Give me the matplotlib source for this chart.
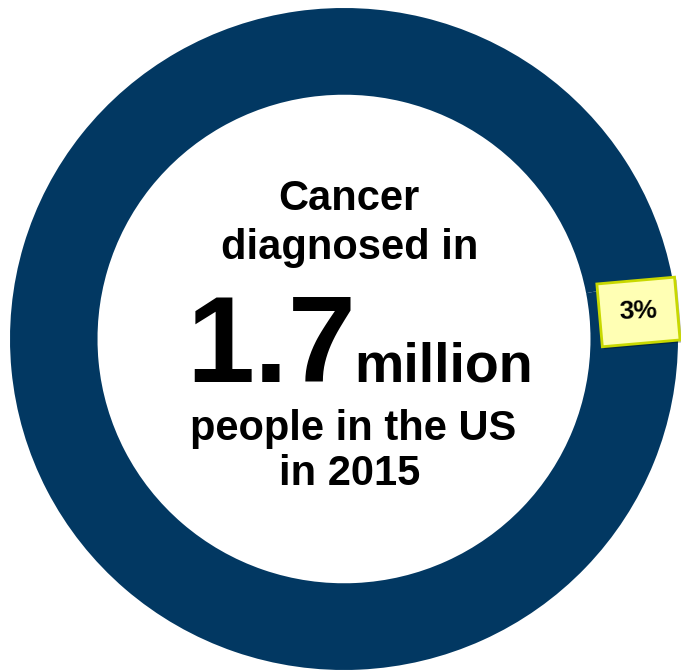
import matplotlib
matplotlib.use('Agg')
import matplotlib.pyplot as plt
from matplotlib.patches import Rectangle
from matplotlib.transforms import ScaledTranslation

# data
shares = [3, 97]
labels = ['3%', '']
headline = ['Cancer', 'diagnosed in']
big_number = '1.7'
big_unit = 'million'
footline = ['people in the US', 'in 2015']

NAVY = '#023862'
plt.rcParams['font.family'] = ['Liberation Sans', 'DejaVu Sans']

W, H = 681, 671
fig = plt.figure(figsize=(W / 100, H / 100), dpi=100)
ax = fig.add_axes([0, 0, 1, 1])

wedges, _, autotexts = ax.pie(
    shares, colors=[NAVY, NAVY], startangle=0, counterclock=True,
    wedgeprops=dict(width=0.262, linewidth=0),
    autopct=lambda p: f'{p:.0f}%' if p < 50 else '', pctdistance=0.884,
    textprops=dict(fontsize=19, fontweight='bold', color='black', zorder=5))

# ring is slightly wider than tall in the original
ax.set_aspect('auto')
ax.set_xlim(-344 / 334, 337 / 334)
ax.set_ylim(-332 / 331, 339 / 331)
ax.axis('off')

# yellow callout box behind the 3% label
lx, ly = autotexts[0].get_position()
trans = fig.dpi_scale_trans + ScaledTranslation(lx, ly, ax.transData)
shadow = Rectangle((-0.365, -0.345), 0.78, 0.63, angle=5, rotation_point='center',
                   transform=trans, facecolor='#000000', alpha=0.3, lw=0, zorder=3)
box = Rectangle((-0.385, -0.32), 0.78, 0.63, angle=5, rotation_point='center',
                transform=trans, facecolor='#FFFFB4', edgecolor='#C8D800',
                lw=2, zorder=4)
ax.add_patch(shadow)
ax.add_patch(box)
autotexts[0].set_rotation(2)


def px(x, y):
    return x / W, 1 - y / H


fig.text(*px(349, 210), headline[0], ha='center', va='baseline',
         fontsize=30, fontweight='bold')
fig.text(*px(350, 259), headline[1], ha='center', va='baseline',
         fontsize=30, fontweight='bold')
fig.text(*px(356, 382), big_number, ha='right', va='baseline',
         fontsize=88, fontweight='bold')
fig.text(*px(354, 382), big_unit, ha='left', va='baseline',
         fontsize=40, fontweight='bold')
fig.text(*px(353, 440), footline[0], ha='center', va='baseline',
         fontsize=30, fontweight='bold')
fig.text(*px(350, 485), footline[1], ha='center', va='baseline',
         fontsize=30, fontweight='bold')

fig.savefig('out.png', dpi=100, facecolor='white')
